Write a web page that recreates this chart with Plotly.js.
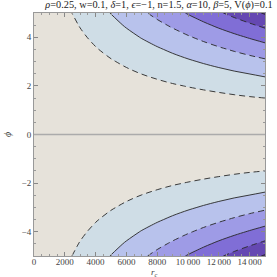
<!DOCTYPE html>
<html><head><meta charset="utf-8">
<script src="https://cdn.plot.ly/plotly-3.0.1.min.js"></script>
<style>html,body{margin:0;padding:0;background:#fff;}</style>
</head><body><div id="chart" style="width:277px;height:277px;"></div>
<script>
// grid of r_c values (x) and phi values (y)
const rValues = [0,1000,2000,3000,4000,5000,6000,7000,8000,9000,10000,11000,12000,13000,14000,15000];
const phiValues = [-5,-4.5,-4,-3.5,-3,-2.5,-2,-1.5,-1,-0.5,0,0.5,1,1.5,2,2.5,3,3.5,4,4.5,5];
// field values (in contour-level units), one row per phi
const zValues = [
 [0,0.41,0.81,1.22,1.63,2.03,2.44,2.85,3.25,3.66,4.07,4.47,4.88,5.29,5.69,6.10],
 [0,0.35,0.69,1.04,1.39,1.74,2.08,2.43,2.78,3.12,3.47,3.82,4.17,4.51,4.86,5.21],
 [0,0.29,0.58,0.87,1.16,1.45,1.75,2.04,2.33,2.62,2.91,3.20,3.49,3.78,4.07,4.36],
 [0,0.24,0.48,0.71,0.95,1.19,1.43,1.67,1.90,2.14,2.38,2.62,2.86,3.10,3.33,3.57],
 [0,0.19,0.38,0.57,0.76,0.94,1.13,1.32,1.51,1.70,1.89,2.08,2.27,2.46,2.65,2.83],
 [0,0.14,0.29,0.43,0.57,0.72,0.86,1.01,1.15,1.29,1.44,1.58,1.72,1.87,2.01,2.16],
 [0,0.10,0.21,0.31,0.41,0.51,0.62,0.72,0.82,0.93,1.03,1.13,1.23,1.34,1.44,1.54],
 [0,0.07,0.13,0.20,0.27,0.33,0.40,0.47,0.53,0.60,0.67,0.73,0.80,0.87,0.94,1.00],
 [0,0.04,0.07,0.11,0.15,0.18,0.22,0.25,0.29,0.33,0.36,0.40,0.44,0.47,0.51,0.55],
 [0,0.01,0.03,0.04,0.05,0.06,0.08,0.09,0.10,0.12,0.13,0.14,0.15,0.17,0.18,0.19],
 [0,0,0,0,0,0,0,0,0,0,0,0,0,0,0,0],
 [0,0.01,0.03,0.04,0.05,0.06,0.08,0.09,0.10,0.12,0.13,0.14,0.15,0.17,0.18,0.19],
 [0,0.04,0.07,0.11,0.15,0.18,0.22,0.25,0.29,0.33,0.36,0.40,0.44,0.47,0.51,0.55],
 [0,0.07,0.13,0.20,0.27,0.33,0.40,0.47,0.53,0.60,0.67,0.73,0.80,0.87,0.94,1.00],
 [0,0.10,0.21,0.31,0.41,0.51,0.62,0.72,0.82,0.93,1.03,1.13,1.23,1.34,1.44,1.54],
 [0,0.14,0.29,0.43,0.57,0.72,0.86,1.01,1.15,1.29,1.44,1.58,1.72,1.87,2.01,2.16],
 [0,0.19,0.38,0.57,0.76,0.94,1.13,1.32,1.51,1.70,1.89,2.08,2.27,2.46,2.65,2.83],
 [0,0.24,0.48,0.71,0.95,1.19,1.43,1.67,1.90,2.14,2.38,2.62,2.86,3.10,3.33,3.57],
 [0,0.29,0.58,0.87,1.16,1.45,1.75,2.04,2.33,2.62,2.91,3.20,3.49,3.78,4.07,4.36],
 [0,0.35,0.69,1.04,1.39,1.74,2.08,2.43,2.78,3.12,3.47,3.82,4.17,4.51,4.86,5.21],
 [0,0.41,0.81,1.22,1.63,2.03,2.44,2.85,3.25,3.66,4.07,4.47,4.88,5.29,5.69,6.10]
];
const xTickVals = [0,2000,4000,6000,8000,10000,12000,14000];
const xTickText = ['0','2000','4000','6000','8000','10\u2009000','12\u2009000','14\u2009000'];
const yTickVals = [-4,-2,0,2,4];
const yTickText = ['\u22124','\u22122','0','2','4'];
const bandColors = ['#E6E2DA','#CFDDE6','#B8C2EC','#9E9BE6','#806ED6','#6548B2','#502D8C'];

const colorscale = bandColors.map((c,i)=>[i/(bandColors.length-1), c]);
const lineColor = 'rgba(40,40,40,0.9)';

const traces = [
 {type:'contour', x:rValues, y:phiValues, z:zValues, showscale:false, hoverinfo:'skip',
  colorscale:colorscale, contours:{start:1,end:6,size:1,coloring:'fill',showlines:false},
  line:{width:0}},
 {type:'contour', x:rValues, y:phiValues, z:zValues, showscale:false, hoverinfo:'skip',
  contours:{start:1,end:5,size:2,coloring:'none'},
  line:{color:lineColor,width:1,dash:'6px,4px'}},
 {type:'contour', x:rValues, y:phiValues, z:zValues, showscale:false, hoverinfo:'skip',
  contours:{start:2,end:6,size:2,coloring:'none'},
  line:{color:lineColor,width:1}}
];

const tickFont = {family:'Liberation Serif', size:9, color:'#444'};
const layout = {
 width:277, height:277,
 margin:{l:34,r:12,t:13,b:21},
 paper_bgcolor:'#fff', plot_bgcolor:'#fff',
 showlegend:false,
 title:{text:'<i>ρ</i>=0.25, w=0.1, <i>δ</i>=1, <i>ϵ</i>=−1, n=1.5, <i>α</i>=10, <i>β</i>=5, V(<i>ϕ</i>)=0.1',
   font:{family:'Liberation Serif', size:10.3, color:'#222'}, x:159/277, xanchor:'center', y:0.996, yanchor:'top', xref:'container', yref:'container'},
 xaxis:{range:[0,15000], tickmode:'array', tickvals:xTickVals, ticktext:xTickText,
   ticks:'inside', ticklen:4, tickcolor:'#888', tickwidth:1, showline:true, linecolor:'#999', linewidth:1,
   mirror:'ticks', showgrid:false, zeroline:false, tickfont:tickFont, ticklabelstandoff:-3,
   minor:{tickmode:'linear', tick0:0, dtick:500, ticks:'inside', ticklen:2, tickcolor:'#999', showgrid:false}},
 yaxis:{range:[-5,5], tickmode:'array', tickvals:yTickVals, ticktext:yTickText,
   ticks:'inside', ticklen:4, tickcolor:'#888', tickwidth:1, showline:true, linecolor:'#999', linewidth:1,
   mirror:'ticks', showgrid:false, zeroline:false, tickfont:tickFont,
   minor:{tickmode:'linear', tick0:0, dtick:0.5, ticks:'inside', ticklen:2, tickcolor:'#999', showgrid:false},
   title:{text:'<i>ϕ</i>', font:{family:'Liberation Serif', size:10, color:'#444'}, standoff:8}},
 annotations:[{text:'<i>r</i><sub><i>c</i></sub>', xref:'paper', x:0.52, yref:'paper', y:-0.068, yanchor:'middle', xanchor:'center',
   showarrow:false, font:{family:'Liberation Serif', size:9, color:'#444'}}],
 shapes:[{type:'line', xref:'paper', x0:0, x1:1, yref:'y', y0:0, y1:0, line:{color:'#ababab', width:1.5}}]
};
Plotly.newPlot('chart', traces, layout, {staticPlot:true, displayModeBar:false});
</script></body></html>
